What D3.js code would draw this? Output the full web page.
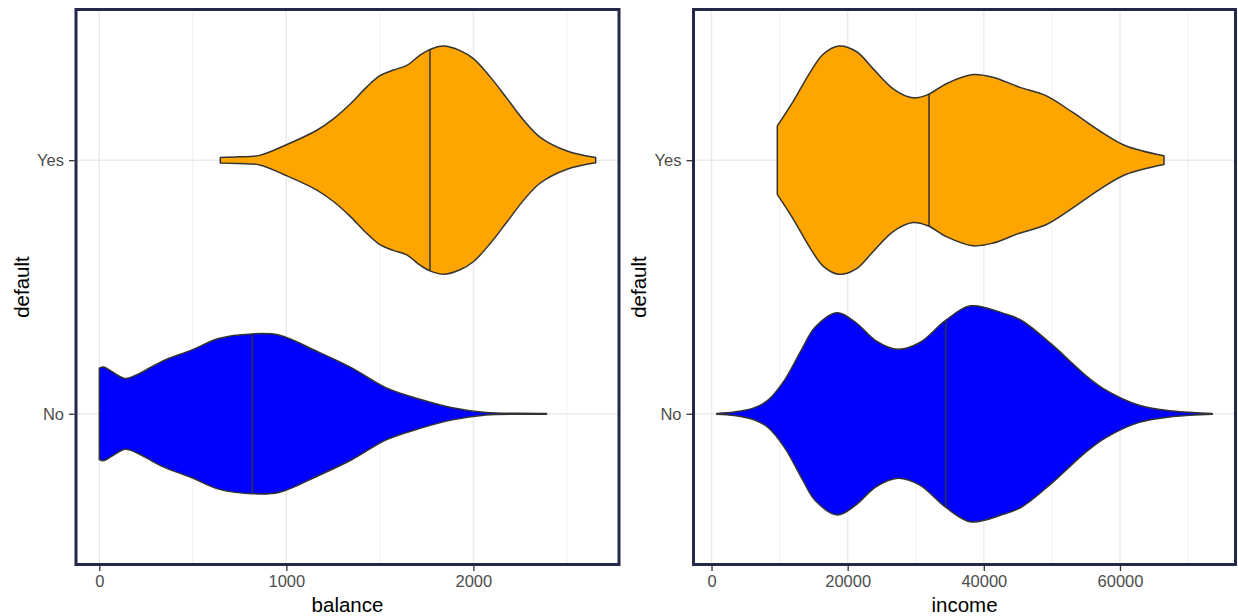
<!DOCTYPE html>
<html>
<head>
<meta charset="utf-8">
<script src="https://cdn.jsdelivr.net/npm/d3@7"></script>
<style>
  html, body { margin: 0; padding: 0; background: #ffffff; }
  svg { display: block; }
</style>
</head>
<body>
<script>
// ---------------- DATA ----------------
const categories = ["Yes", "No"];

// balance panel
const balanceRange = [0, 2654];
const balanceTicks = [0, 1000, 2000];
const balanceMinorTicks = [500, 1500, 2500];
const balanceYesX = [647, 750, 857, 1000, 1161, 1250, 1340, 1429, 1500, 1572, 1644, 1715, 1768, 1840, 1929, 2000, 2090, 2180, 2269, 2358, 2501, 2654];
const balanceYesDensity = [0.024, 0.029, 0.042, 0.135, 0.26, 0.36, 0.49, 0.64, 0.74, 0.79, 0.83, 0.92, 0.97, 1.0, 0.96, 0.89, 0.73, 0.54, 0.35, 0.20, 0.08, 0.023];
const balanceNoX = [0, 23, 68, 139, 210, 335, 495, 638, 816, 959, 1173, 1352, 1531, 1710, 1888, 2067, 2246, 2391];
const balanceNoDensity = [0.40, 0.41, 0.37, 0.31, 0.35, 0.46, 0.56, 0.66, 0.70, 0.69, 0.54, 0.40, 0.23, 0.13, 0.053, 0.011, 0.004, 0.003];
const balanceMedians = [1768, 818];

// income panel
const incomeRange = [772, 73554];
const incomeTicks = [0, 20000, 40000, 60000];
const incomeMinorTicks = [10000, 30000, 50000, 70000];
const incomeYesX = [9664, 12045, 14488, 16435, 18732, 21322, 23752, 26680, 29607, 31802, 34494, 38387, 41314, 45222, 49129, 53022, 56930, 60838, 66466];
const incomeYesDensity = [0.30, 0.52, 0.77, 0.93, 1.0, 0.95, 0.80, 0.625, 0.546, 0.575, 0.67, 0.75, 0.727, 0.64, 0.566, 0.42, 0.26, 0.126, 0.038];
const incomeNoX = [772, 3343, 6320, 8300, 10777, 13255, 15235, 18460, 21188, 24164, 27390, 30601, 34428, 38050, 43006, 45484, 49941, 54897, 57874, 62830, 67786, 73554];
const incomeNoDensity = [0.003, 0.015, 0.054, 0.12, 0.30, 0.565, 0.76, 0.886, 0.80, 0.64, 0.565, 0.625, 0.82, 0.946, 0.878, 0.82, 0.61, 0.34, 0.21, 0.075, 0.024, 0.003];
const incomeMedians = [31953, 34420];

const fillColors = ["#FFA500", "#0000FF"];

// ---------------- LAYOUT ----------------
const W = 1238, H = 616;
const panelTop = 8, panelBottom = 566;
const FONT = "'Liberation Sans', Arial, Helvetica, sans-serif";

const svg = d3.select("body").append("svg")
  .attr("width", W).attr("height", H)
  .attr("viewBox", `0 0 ${W} ${H}`);

svg.append("rect").attr("width", W).attr("height", H).attr("fill", "#ffffff");

const panels = [
  {
    id: "bal", title: "balance", left: 74.5, right: 620.5,
    range: balanceRange, ticks: balanceTicks, minor: balanceMinorTicks,
    series: [
      { x: balanceYesX, d: balanceYesDensity, median: balanceMedians[0] },
      { x: balanceNoX, d: balanceNoDensity, median: balanceMedians[1] }
    ]
  },
  {
    id: "inc", title: "income", left: 692, right: 1237,
    range: incomeRange, ticks: incomeTicks, minor: incomeMinorTicks,
    series: [
      { x: incomeYesX, d: incomeYesDensity, median: incomeMedians[0] },
      { x: incomeNoX, d: incomeNoDensity, median: incomeMedians[1] }
    ]
  }
];

const defs = svg.append("defs");

panels.forEach(p => {
  const pad = (p.range[1] - p.range[0]) * 0.05;
  const x = d3.scaleLinear().domain([p.range[0] - pad, p.range[1] + pad]).range([p.left, p.right]);
  const y = d3.scalePoint().domain(categories).range([panelTop, panelBottom]).padding(0.6);
  const step = y.step();
  const w = d3.scaleLinear().domain([0, 1]).range([0, step * 0.45]);

  const g = svg.append("g");

  // minor grid
  g.selectAll(".minor").data(p.minor).join("line")
    .attr("x1", d => x(d)).attr("x2", d => x(d))
    .attr("y1", panelTop).attr("y2", panelBottom)
    .attr("stroke", "#ebebeb").attr("stroke-width", 0.8);
  // major x grid
  g.selectAll(".majx").data(p.ticks).join("line")
    .attr("x1", d => x(d)).attr("x2", d => x(d))
    .attr("y1", panelTop).attr("y2", panelBottom)
    .attr("stroke", "#ebebeb").attr("stroke-width", 1.5);
  // major y grid
  g.selectAll(".majy").data(categories).join("line")
    .attr("x1", p.left).attr("x2", p.right)
    .attr("y1", d => y(d)).attr("y2", d => y(d))
    .attr("stroke", "#ebebeb").attr("stroke-width", 1.5);

  // violins
  categories.forEach((c, i) => {
    const s = p.series[i];
    const cy = y(c);
    const pts = s.x.map((v, k) => ({ v: v, d: s.d[k] }));
    const area = d3.area()
      .x(d => x(d.v))
      .y0(d => cy - w(d.d))
      .y1(d => cy + w(d.d))
      .curve(d3.curveCatmullRom.alpha(0.5));
    const pathD = area(pts);
    const clipId = `clip-${p.id}-${i}`;
    defs.append("clipPath").attr("id", clipId).append("path").attr("d", pathD);

    g.append("path").attr("d", pathD).attr("fill", fillColors[i]).attr("stroke", "none");
    g.append("line")
      .attr("x1", x(s.median)).attr("x2", x(s.median))
      .attr("y1", cy - step / 2).attr("y2", cy + step / 2)
      .attr("stroke", "#333333").attr("stroke-width", 1.5)
      .attr("clip-path", `url(#${clipId})`);
    g.append("path").attr("d", pathD).attr("fill", "none")
      .attr("stroke", "#333333").attr("stroke-width", 1.5)
      .attr("stroke-linejoin", "round");
  });

  // border
  g.append("rect")
    .attr("x", p.left + 1.5).attr("y", panelTop + 1.5)
    .attr("width", p.right - p.left - 3).attr("height", panelBottom - panelTop - 3)
    .attr("fill", "none").attr("stroke", "#222a48").attr("stroke-width", 3);

  // x axis
  const xa = g.append("g").attr("transform", `translate(0,${panelBottom})`)
    .call(d3.axisBottom(x).tickValues(p.ticks).tickSize(5).tickPadding(4).tickFormat(d3.format("d")));
  xa.select(".domain").remove();
  xa.selectAll(".tick line").attr("stroke", "#333333").attr("stroke-width", 1.3);
  xa.selectAll(".tick text").attr("fill", "#4d4d4d").style("font-family", FONT).style("font-size", "16.5px");

  // y axis
  const ya = g.append("g").attr("transform", `translate(${p.left},0)`)
    .call(d3.axisLeft(y).tickSize(5.5).tickPadding(5));
  ya.select(".domain").remove();
  ya.selectAll(".tick line").attr("stroke", "#333333").attr("stroke-width", 1.3);
  ya.selectAll(".tick text").attr("fill", "#4d4d4d").style("font-family", FONT).style("font-size", "16.5px");

  // titles
  g.append("text")
    .attr("x", (p.left + p.right) / 2).attr("y", 612)
    .attr("text-anchor", "middle")
    .style("font-family", FONT).style("font-size", "20.5px").attr("fill", "#000")
    .text(p.title);
  g.append("text")
    .attr("transform", `translate(${p.left - 46},${(panelTop + panelBottom) / 2}) rotate(-90)`)
    .attr("text-anchor", "middle")
    .style("font-family", FONT).style("font-size", "20.5px").attr("fill", "#000")
    .text("default");
});
</script>
</body>
</html>
